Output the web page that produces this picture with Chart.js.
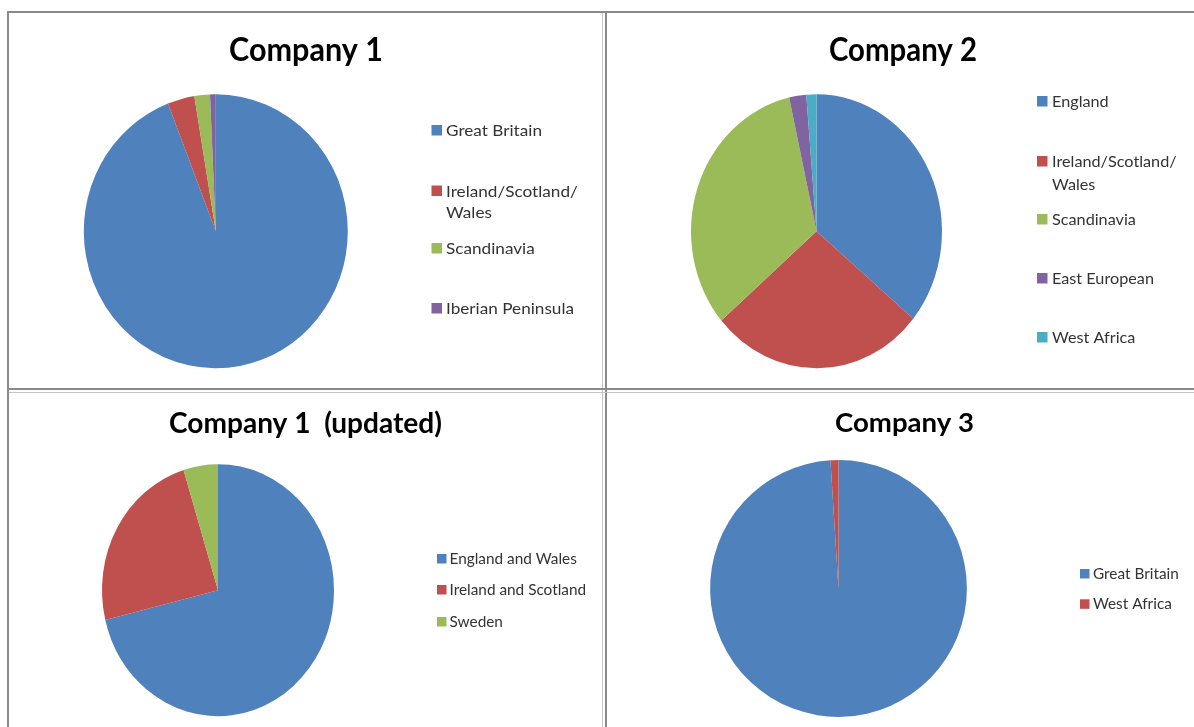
<!DOCTYPE html>
<html>
<head>
<meta charset="utf-8">
<script src="https://cdn.jsdelivr.net/npm/chart.js@4.4.1/dist/chart.umd.min.js"></script>
<style>
  html, body { margin: 0; padding: 0; background: #ffffff; }
  body { width: 1194px; height: 727px; position: relative; overflow: hidden; }
  canvas { position: absolute; }
  .ln { position: absolute; background: #8a8a8a; }
  .ln2 { position: absolute; background: #c4c4c4; }
</style>
</head>
<body>
<div class="ln" style="left:7px;top:11px;width:2px;height:716px;"></div>
<div class="ln" style="left:7px;top:11px;width:1187px;height:2px;"></div>
<div class="ln2" style="left:602px;top:13px;width:1px;height:714px;"></div>
<div class="ln" style="left:605px;top:13px;width:2px;height:714px;"></div>
<div class="ln" style="left:9px;top:388px;width:1185px;height:2px;"></div>
<div class="ln2" style="left:9px;top:392px;width:1185px;height:1px;"></div>

<canvas id="p1"></canvas>
<canvas id="p2"></canvas>
<canvas id="p3"></canvas>
<canvas id="p4"></canvas>

<script>
// ---- Data ----
const company1Labels = ['Great Britain', 'Ireland/Scotland/Wales', 'Scandinavia', 'Iberian Peninsula'];
const company1Values = [94.1, 3.3, 1.9, 0.7];

const company2Labels = ['England', 'Ireland/Scotland/Wales', 'Scandinavia', 'East European', 'West Africa'];
const company2Values = [36.0, 27.7, 32.8, 2.2, 1.3];

const company1UpdatedLabels = ['England and Wales', 'Ireland and Scotland', 'Sweden'];
const company1UpdatedValues = [71.2, 24.0, 4.8];

const company3Labels = ['Great Britain', 'West Africa'];
const company3Values = [99.0, 1.0];

const titles = ['Company 1', 'Company 2', 'Company 1  (updated)', 'Company 3'];

// ---- Styles ----
const BLUE = '#4F81BD', RED = '#C0504D', GREEN = '#9BBB59', PURPLE = '#8064A2', CYAN = '#4BACC6';

// Layout in page coordinates
const panels = [
  { id: 'p1', left: 10, top: 13, width: 595, height: 375,
    labels: company1Labels, values: company1Values, colors: [BLUE, RED, GREEN, PURPLE],
    title: titles[0], cx: 215.8, cy: 231.3, rh: 132, rv: 137,
    tLeft: 229, tRight: 383, tBase: 61, tSize: 32,
    lg: { sqX: 431.5, sq: 10.5, textX: 446, size: 16, refText: 'Great Britain', refWidth: 96,
          base: [136, 196.5, 254, 314], lineH: 21.5, wrap: 140 } },
  { id: 'p2', left: 607, top: 13, width: 587, height: 375,
    labels: company2Labels, values: company2Values, colors: [BLUE, RED, GREEN, PURPLE, CYAN],
    title: titles[1], cx: 816.5, cy: 231.3, rh: 125.5, rv: 137,
    tLeft: 829, tRight: 977, tBase: 61, tSize: 32,
    lg: { sqX: 1037, sq: 10.5, textX: 1052, size: 16, refText: 'East European', refWidth: 102,
          base: [107, 167, 225, 284, 343], lineH: 22.5, wrap: 140 } },
  { id: 'p3', left: 10, top: 390, width: 595, height: 337,
    labels: company1UpdatedLabels, values: company1UpdatedValues, colors: [BLUE, RED, GREEN],
    title: titles[2], cx: 218, cy: 590.2, rh: 116, rv: 126,
    tLeft: 169, tRight: 442, tBase: 433.3, tSize: 28,
    lg: { sqX: 437, sq: 9.5, textX: 449.5, size: 15, refText: 'Ireland and Scotland', refWidth: 136.6,
          base: [564, 595, 627], lineH: 21, wrap: 200 } },
  { id: 'p4', left: 607, top: 390, width: 587, height: 337,
    labels: company3Labels, values: company3Values, colors: [BLUE, RED],
    title: titles[3], cx: 838.5, cy: 588.5, rh: 128.4, rv: 128.4,
    tLeft: 835, tRight: 974, tBase: 431.7, tSize: 27,
    lg: { sqX: 1080, sq: 9.5, textX: 1093, size: 15, refText: 'Great Britain', refWidth: 85.8,
          base: [579, 609.3], lineH: 21, wrap: 200 } }
];

function wrapText(ctx, text, maxW) {
  const tokens = text.match(/[^\/\s]+[\/]?\s*/g) || [text];
  const lines = [];
  let cur = '';
  for (const t of tokens) {
    const test = cur + t;
    if (cur && ctx.measureText(test.trimEnd()).width > maxW) {
      lines.push(cur.trimEnd());
      cur = t;
    } else {
      cur = test;
    }
  }
  if (cur) lines.push(cur.trimEnd());
  return lines;
}

const ellipsePlugin = {
  id: 'ellipse',
  beforeDatasetsDraw(chart, args, opts) {
    const arc = chart.getDatasetMeta(0).data[0];
    const ctx = chart.ctx;
    ctx.save();
    ctx.translate(arc.x, arc.y);
    ctx.scale(1, opts.sy || 1);
    ctx.translate(-arc.x, -arc.y);
  },
  afterDatasetsDraw(chart) {
    chart.ctx.restore();
  }
};

const textPlugin = {
  id: 'panelText',
  afterDraw(chart, args, o) {
    const p = o.panel;
    const ctx = chart.ctx;
    const ox = p.left, oy = p.top;
    // Title
    ctx.save();
    ctx.font = 'bold ' + p.tSize + 'px Lato, "Open Sans", sans-serif';
    ctx.fillStyle = '#000000';
    ctx.textBaseline = 'alphabetic';
    ctx.textAlign = 'left';
    const tw = ctx.measureText(p.title).width;
    const sx = (p.tRight - p.tLeft) / tw;
    ctx.translate(p.tLeft - ox, p.tBase - oy);
    ctx.scale(sx, 1);
    ctx.fillText(p.title, 0, 0);
    ctx.restore();

    // Legend
    const lg = p.lg;
    ctx.save();
    ctx.font = lg.size + 'px Lato, "Open Sans", sans-serif';
    const lsx = lg.refWidth / ctx.measureText(lg.refText).width;
    const labels = chart.data.labels;
    const colors = chart.data.datasets[0].backgroundColor;
    labels.forEach((lab, i) => {
      const b = lg.base[i];
      ctx.fillStyle = colors[i];
      ctx.fillRect(lg.sqX - ox, b - oy - lg.sq - 0.5, lg.sq, lg.sq);
      ctx.fillStyle = '#333333';
      const lines = wrapText(ctx, lab, lg.wrap / lsx);
      lines.forEach((ln, j) => {
        ctx.save();
        ctx.translate(lg.textX - ox, b - oy + j * lg.lineH);
        ctx.scale(lsx, 1);
        ctx.fillText(ln, 0, 0);
        ctx.restore();
      });
    });
    ctx.restore();
  }
};

panels.forEach(p => {
  const cv = document.getElementById(p.id);
  cv.width = p.width;
  cv.height = p.height;
  cv.style.left = p.left + 'px';
  cv.style.top = p.top + 'px';
  cv.style.width = p.width + 'px';
  cv.style.height = p.height + 'px';
  const ccx = p.cx - p.left, ccy = p.cy - p.top;
  new Chart(cv, {
    type: 'pie',
    data: {
      labels: p.labels,
      datasets: [{
        data: p.values,
        backgroundColor: p.colors,
        borderWidth: 0,
        hoverOffset: 0
      }]
    },
    options: {
      responsive: false,
      animation: false,
      events: [],
      layout: {
        padding: {
          left: ccx - p.rh,
          top: ccy - p.rh,
          right: p.width - (ccx + p.rh),
          bottom: p.height - (ccy + p.rh)
        }
      },
      plugins: {
        legend: { display: false },
        title: { display: false },
        tooltip: { enabled: false },
        ellipse: { sy: p.rv / p.rh },
        panelText: { panel: p }
      }
    },
    plugins: [ellipsePlugin, textPlugin]
  });
});
</script>
</body>
</html>
